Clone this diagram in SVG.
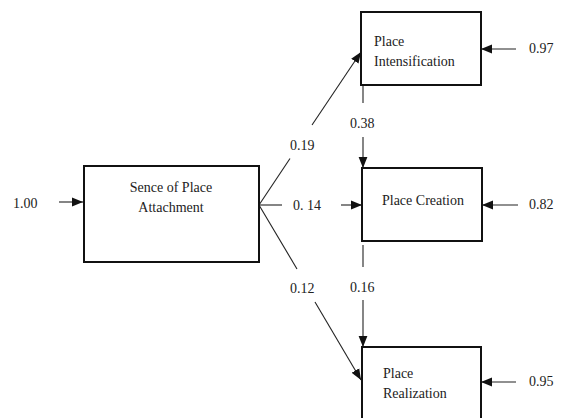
<svg xmlns="http://www.w3.org/2000/svg" width="577" height="418" viewBox="0 0 577 418">
<style>
.box{fill:#fff;stroke:#111;stroke-width:2}
.ln{stroke:#222;stroke-width:1.1;fill:none}
.ar{marker-end:url(#ah)}
text{font-family:"Liberation Serif","Times New Roman",serif;font-size:14px;fill:#222}
</style>
<defs>
<marker id="ah" viewBox="0 0 10 10" refX="10" refY="5" markerWidth="11" markerHeight="11" markerUnits="userSpaceOnUse" orient="auto">
<path d="M0,1 L10,5 L0,9 Z" fill="#111"/>
</marker>
</defs>
<rect width="577" height="418" fill="#fff"/>
<g id="connectors">
<line class="ln ar" x1="59" y1="202" x2="83" y2="202"/>
<line class="ln" x1="259" y1="205" x2="290" y2="158.5"/>
<line class="ln ar" x1="312" y1="125" x2="361" y2="52"/>
<line class="ln" x1="259" y1="205" x2="282" y2="205"/>
<line class="ln ar" x1="341" y1="205" x2="362" y2="205"/>
<line class="ln" x1="259" y1="205" x2="297" y2="269"/>
<line class="ln ar" x1="315" y1="302" x2="361" y2="380"/>
<line class="ln" x1="363" y1="86" x2="363" y2="103"/>
<line class="ln ar" x1="363" y1="137" x2="363" y2="168"/>
<line class="ln" x1="363" y1="245" x2="363" y2="267"/>
<line class="ln ar" x1="363" y1="300" x2="363" y2="347"/>
<line class="ln ar" x1="516" y1="49" x2="481" y2="49"/>
<line class="ln ar" x1="518" y1="205" x2="482" y2="205"/>
<line class="ln ar" x1="516" y1="382" x2="481" y2="382"/>
<text x="13" y="208">1.00</text>
<text x="290" y="150">0.19</text>
<text x="293" y="210">0. 14</text>
<text x="290" y="293">0.12</text>
<text x="350" y="128">0.38</text>
<text x="350" y="292">0.16</text>
<text x="529" y="53">0.97</text>
<text x="529" y="209">0.82</text>
<text x="529" y="386">0.95</text>
</g>
<g id="attachment">
<rect class="box" x="84" y="166" width="175" height="96"/>
<text x="171" y="192" text-anchor="middle">Sence of Place</text>
<text x="171" y="212" text-anchor="middle">Attachment</text>
</g>
<g id="intensification">
<rect class="box" x="361" y="12" width="120" height="73"/>
<text x="374" y="46">Place</text>
<text x="374" y="66">Intensification</text>
</g>
<g id="creation">
<rect class="box" x="362" y="168" width="120" height="73"/>
<text x="423" y="205" text-anchor="middle">Place Creation</text>
</g>
<g id="realization">
<rect class="box" x="362" y="347" width="119" height="80"/>
<text x="383" y="378">Place</text>
<text x="383" y="398">Realization</text>
</g>
</svg>
